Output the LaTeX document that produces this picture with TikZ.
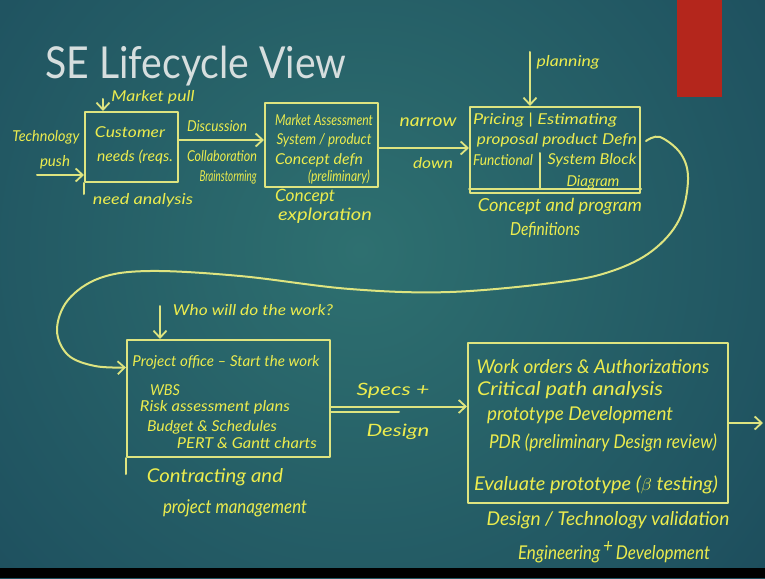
\documentclass[tikz,border=0pt]{standalone}
\usepackage{fontspec}
\setmainfont{Lato}
\usepackage{graphicx}
\usetikzlibrary{arrows.meta}
\definecolor{hy}{RGB}{236,236,78}
\definecolor{hl}{RGB}{222,228,128}
\definecolor{bgc}{RGB}{46,112,112}
\definecolor{bgm}{RGB}{31,82,96}
\definecolor{bge}{RGB}{15,44,64}
\definecolor{titlec}{RGB}{214,222,222}
\definecolor{redr}{RGB}{180,38,28}
\pgfdeclareradialshading{bgshade}{\pgfpoint{0bp}{0bp}}{color(0bp)=(bgc); color(12bp)=(bgm); color(25bp)=(bge); color(50bp)=(bge)}
\newcommand{\hwt}[3][15]{\resizebox{#2pt}{\height}{\fontsize{#1}{#1}\selectfont\itshape #3}}
\tikzset{
  hline/.style={draw=hl, line width=2pt, line cap=round, line join=round},
  hbox/.style={hline, rectangle, inner sep=0pt},
  hand/.style={text=hy, inner sep=0pt},
  harrow/.style={hline, -{Straight Barb[length=7pt,width=13pt,line width=1.8pt]}}
}
\begin{document}
\begin{tikzpicture}[x=1pt,y=-1pt]
\useasboundingbox (0,0) rectangle (765,578);
% background
\begin{scope}
\clip (0,0) rectangle (765,578);
\shade[shading=bgshade] (-600,-710) rectangle (1320,1210);
\end{scope}
\fill[black] (0,568) rectangle (765,578);
\fill[redr] (677,0) rectangle (722,97);
% title
\node[anchor=base west, inner sep=0pt, text=titlec, font=\fontsize{44}{44}\selectfont] (title) at (45,78) {\scalebox{0.89}[1]{SE Lifecycle View}};

% boxes
\node[hbox, minimum width=93pt, minimum height=70pt] (b1) at (131.5,147) {};
\node[hbox, minimum width=113pt, minimum height=84pt] (b2) at (321.5,145) {};
\node[hbox, minimum width=170pt, minimum height=86pt] (b3) at (555,150) {};
\node[hbox, minimum width=203pt, minimum height=117pt] (b4) at (228.5,398.5) {};
\node[hbox, minimum width=260pt, minimum height=160pt] (b5) at (598,423) {};
\draw[hline] (b1.south west) -- ++(0,11);
\draw[hline] (b4.south west) -- ++(0,16);
\draw[hline] ([yshift=5pt]b3.south west) -- ([yshift=5pt]b3.south east);
\draw[hline] (540,153) -- (540,188);

% texts, stage 1
\node[hand] (mp) at (153,97) {\hwt{83}{Market pull}};
\node[hand] (tech) at (46,137) {\hwt{67}{Technology}};
\node[hand] (push) at (55,162) {\hwt{30}{push}};
\node[hand] (cust) at (130,132) {\hwt{70}{Customer}};
\node[hand] (needs) at (135,157) {\hwt{76}{needs (reqs.}};
\node[hand] (disc) at (217,126) {\hwt{60}{Discussion}};
\node[hand] (collab) at (222,156) {\hwt{70}{Collaboration}};
\node[hand] (brain) at (228,177) {\hwt{57}{Brainstorming}};
\node[hand] (needan) at (143,200) {\hwt{100}{need analysis}};
% stage 2
\node[hand] (ma) at (324,120) {\hwt{98}{Market Assessment}};
\node[hand] (sp) at (324,140) {\hwt{95}{System / product}};
\node[hand] (cd) at (319,160) {\hwt{88}{Concept defn}};
\node[hand] (prel) at (339,177) {\hwt{62}{(preliminary)}};
\node[hand] (ce1) at (305,197) {\hwt[17]{60}{Concept}};
\node[hand] (ce2) at (325,216) {\hwt[17]{94}{exploration}};
\node[hand] (narrow) at (428,122) {\hwt[17]{57}{narrow}};
\node[hand] (down) at (433,163) {\hwt{40}{down}};
% stage 3
\node[hand] (plan) at (568,62) {\hwt{63}{planning}};
\node[hand] (pe) at (545,120) {\hwt{144}{Pricing | Estimating}};
\node[hand] (ppd) at (557,140) {\hwt{160}{proposal product Defn}};
\node[hand] (func) at (503,160) {\hwt{60}{Functional}};
\node[hand] (sbd) at (592,160) {\hwt{89}{System Block}};
\node[hand] (diag) at (593,182) {\hwt{53}{Diagram}};
\node[hand] (cpd1) at (560,207) {\hwt[18]{164}{Concept and program}};
\node[hand] (cpd2) at (545,230) {\hwt[18]{70}{Definitions}};
% stage 4
\node[hand] (who) at (253,310) {\hwt{160}{Who will do the work?}};
\node[hand] (po) at (226,362) {\hwt{187}{Project office -- Start the work}};
\node[hand] (wbs) at (165,390) {\hwt{30}{WBS}};
\node[hand] (risk) at (215,407) {\hwt{150}{Risk assessment plans}};
\node[hand] (budget) at (212,427) {\hwt{130}{Budget \& Schedules}};
\node[hand] (pert) at (247,443) {\hwt{140}{PERT \& Gantt charts}};
\node[hand] (contr) at (215,477) {\hwt[19]{136}{Contracting and}};
\node[hand] (pm) at (235,508) {\hwt[19]{144}{project management}};
\node[hand] (specs) at (393,391) {\hwt[17]{73}{Specs +}};
\node[hand] (design) at (398,432) {\hwt[17]{63}{Design}};
% stage 5
\node[hand] (wo) at (593,367) {\hwt[19]{233}{Work orders \& Authorizations}};
\node[hand] (cpa) at (570,390) {\hwt[19]{186}{Critical path analysis}};
\node[hand] (ptd) at (580,415) {\hwt[19]{186}{prototype Development}};
\node[hand] (pdr) at (603,443) {\hwt[19]{228}{PDR (preliminary Design review)}};
\node[hand] (eval) at (596,485) {\hwt[19]{244}{Evaluate prototype ($\beta$ testing)}};
\node[hand] (dtv) at (608,520) {\hwt[19]{243}{Design / Technology validation}};
\node[hand] (ed) at (614,552) {\hwt[19]{192}{Engineering\,\raisebox{7pt}{+}\,Development}};

% connectors
\coordinate (mpa) at (103,99);
\draw[harrow] (mpa) -- (mpa |- b1.north);
\coordinate (tpa) at (37,175);
\draw[harrow] (tpa) -- (tpa -| b1.west);
\draw[harrow] ([yshift=7pt]b1.east) -- ([yshift=7pt]b1.east -| b2.west);
\draw[harrow] ([yshift=-3pt]b2.east) -- ([yshift=-3pt]b2.east -| b3.west);
\coordinate (pla) at (530,52);
\draw[harrow] (pla) -- (pla |- b3.north);
\coordinate (ls) at ([shift={(5pt,9pt)}]b3.east);
\coordinate (le) at ([yshift=31pt]b4.west);
\draw[harrow] plot[smooth, tension=0.6] coordinates {(ls) (660,137) (681,154) (688,180) (679,220) (652,251) (612,271) (560,282) (450,292) (350,289) (240,276) (150,271) (100,278) (68,300) (57,330) (68,355) (95,366) (le)};
\coordinate (wa) at (160,306);
\draw[harrow] (wa) -- (wa |- b4.north);
\draw[harrow] ([yshift=-8pt]b4.east) -- ([yshift=-8pt]b4.east -| b5.west);
\draw[hline] ([yshift=-13pt]b4.east) -- ++(68,0);
\coordinate (outend) at (763,423);
\draw[harrow] (b5.east) -- (outend);
\end{tikzpicture}
\end{document}
